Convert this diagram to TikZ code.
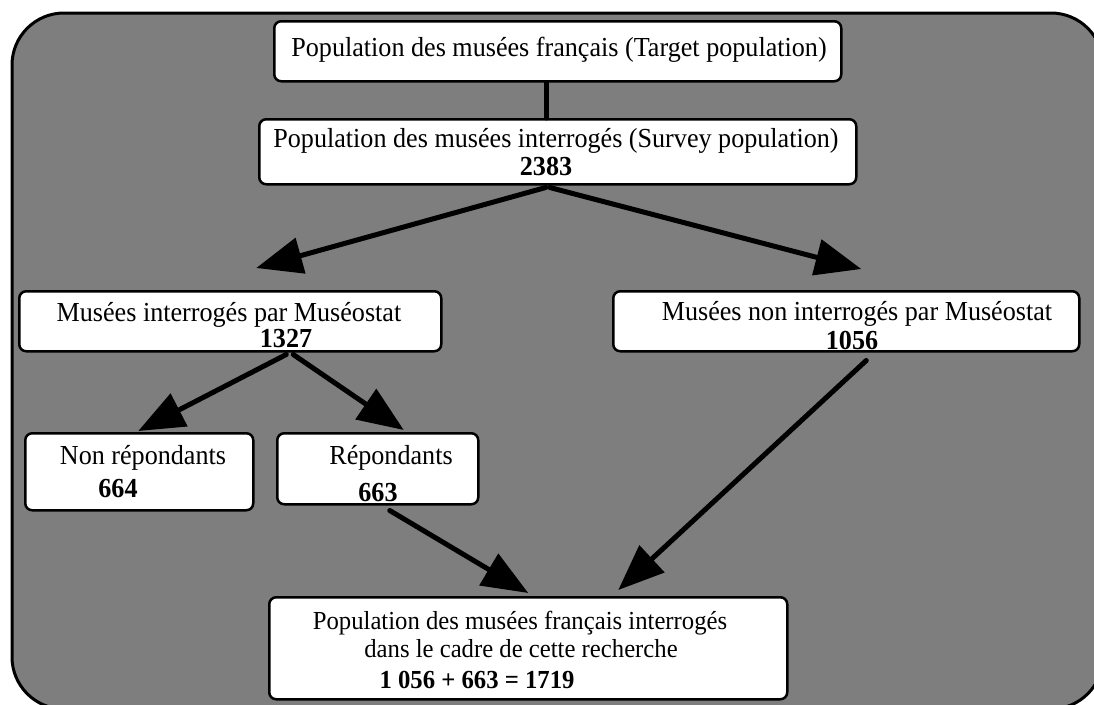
\documentclass[tikz,border=0pt]{standalone}
\usepackage{fontspec}
\setmainfont{Liberation Serif}[FakeStretch=0.95]
\usetikzlibrary{arrows.meta,calc}
\definecolor{bggray}{RGB}{126,126,126}
\begin{document}
\begin{tikzpicture}[x=1pt,y=-1pt,
  box/.style={draw=black, line width=2.5pt, fill=white, rounded corners=7pt, inner sep=0pt, anchor=north west},
  txt/.style={font=\fontsize{27.5}{30}\selectfont, anchor=base, inner sep=0pt},
  num/.style={font=\fontsize{27.5}{30}\selectfont\bfseries, anchor=base, inner sep=0pt},
  btxt/.style={font=\fontsize{26}{29}\selectfont, anchor=base, inner sep=0pt},
  bnum/.style={font=\fontsize{26}{29}\selectfont\bfseries, anchor=base, inner sep=0pt},
  conn/.style={line width=5pt, line cap=round},
  arr/.style={line width=5pt, line cap=round, -{Triangle[length=46pt 0 0,width=36pt 0 0]}}
]
\useasboundingbox (0,0) rectangle (1094,704);
\draw[line width=3pt, fill=bggray, rounded corners=52pt] (12,13) rectangle (1103,709);

\node[box, minimum width=567pt, minimum height=60pt] (b1) at (273,20) {};
\node[box, minimum width=597pt, minimum height=65pt] (b2) at (258,118) {};
\node[box, minimum width=422pt, minimum height=60pt] (b3) at (18,290) {};
\node[box, minimum width=466pt, minimum height=60pt] (b4) at (612,290) {};
\node[box, minimum width=228pt, minimum height=77pt] (b5) at (24,432) {};
\node[box, minimum width=201pt, minimum height=71pt] (b6) at (276,432) {};
\node[box, minimum width=518pt, minimum height=102pt] (b7) at (268,596) {};

\node[txt] (t1) at (559,56) {Population des musées français (Target population)};
\node[txt] (t2) at (556,147) {Population des musées interrogés (Survey population)};
\node[num] (n2) at (546,175) {2383};
\node[txt] (t3) at (229,321) {Musées interrogés par Muséostat};
\node[num] (n3) at (286,347) {1327};
\node[txt] (t4) at (857,320) {Musées non interrogés par Muséostat};
\node[num] (n4) at (852,349) {1056};
\node[txt] (t5) at (143,464) {Non répondants};
\node[num] (n5) at (118,497) {664};
\node[txt] (t6) at (391,464) {Répondants};
\node[num] (n6) at (378,501) {663};
\node[btxt] (t7a) at (520,629) {Population des musées français interrogés};
\node[btxt] (t7b) at (521,657) {dans le cadre de cette recherche};
\node[bnum] (t7c) at (477,688) {1 056 + 663 = 1719};

\draw[conn] ($(b1.south)+(-11,0)$) -- ($(b2.north)+(-11,0)$);
\draw[arr] ($(b2.south)+(-12,2)$) -- ($(b3.north)+(26,-22)$);
\draw[arr] ($(b2.south)+(-8,2)$) -- ($(b4.north)+(15,-21)$);
\draw[arr] ($(b3.south)+(56,2)$) -- ($(b5.north)+(-1,-1)$);
\draw[arr] ($(b3.south)+(63,2)$) -- ($(b6.north)+(26,-2)$);
\draw[arr] ($(b6.south)+(12,5)$) -- ($(b7.north)+(0,-3)$);
\draw[arr] ($(b4.south)+(20,8)$) -- ($(b7.north)+(90,-6)$);
\end{tikzpicture}
\end{document}
